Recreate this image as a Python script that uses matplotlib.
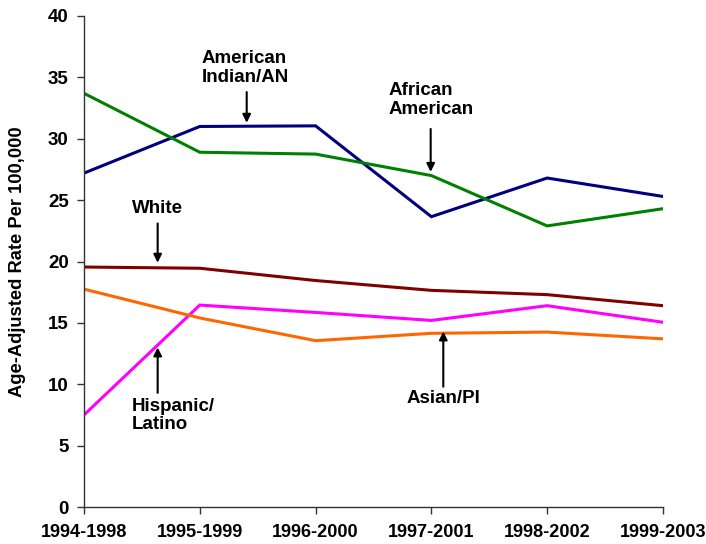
import numpy as np
import matplotlib
matplotlib.use("Agg")
import matplotlib.pyplot as plt

plt.rcParams['font.family'] = ['Liberation Sans', 'DejaVu Sans']
plt.rcParams['font.weight'] = 'bold'

# ---- data ----
periods = ['1994-1998', '1995-1999', '1996-2000', '1997-2001', '1998-2002', '1999-2003']
ai_an = [27.2, 31.0, 31.05, 23.65, 26.8, 25.3]
african_american = [33.7, 28.9, 28.75, 27.0, 22.9, 24.3]
white = [19.55, 19.45, 18.45, 17.65, 17.3, 16.4]
hispanic = [7.5, 16.45, 15.85, 15.2, 16.4, 15.05]
asian_pi = [17.75, 15.4, 13.55, 14.15, 14.25, 13.7]

series = [
    (ai_an, '#000080'),
    (african_american, '#008000'),
    (white, '#800000'),
    (hispanic, '#FF00FF'),
    (asian_pi, '#FF6600'),
]

fig = plt.figure(figsize=(7.06, 5.44), dpi=100, facecolor='w')
ax = fig.add_axes([0.119, 0.068, 0.82, 0.9026])

x = np.arange(len(periods))
for vals, col in series:
    ax.plot(x, vals, color=col, lw=2.2, solid_joinstyle='miter')

ax.set_xlim(0, len(periods) - 1)
ax.set_ylim(0, 40)
ax.set_yticks(np.arange(0, 41, 5))
ax.set_xticks(x)
ax.set_xticklabels(periods)
ax.tick_params(axis='both', direction='out', length=5, width=1, labelsize=13.5, color='#333333')
ax.tick_params(axis='x', pad=7, labelsize=13.1)
ax.tick_params(axis='y', pad=6)
for lab in ax.get_xticklabels() + ax.get_yticklabels():
    lab.set_fontweight('bold')
ax.set_ylabel('Age-Adjusted Rate Per 100,000', fontsize=13.2, fontweight='bold')
ax.yaxis.set_label_coords(-0.100, 0.5)

for spine in ('top', 'right'):
    ax.spines[spine].set_visible(False)
for spine in ('bottom', 'left'):
    ax.spines[spine].set_color('#333333')
    ax.spines[spine].set_linewidth(1)

# ---- labels with arrows ----
labels = [
    ('American\nIndian/AN', (1.016, 37.2), (1.405, 33.8), (1.405, 31.3), 'top'),
    ('African\nAmerican', (2.634, 34.6), (2.994, 30.8), (2.994, 27.3), 'top'),
    ('White', (0.412, 24.3), (0.636, 23.1), (0.636, 19.9), 'center'),
    ('Hispanic/\nLatino', (0.412, 8.9), (0.636, 9.3), (0.636, 13.0), 'top'),
    ('Asian/PI', (2.786, 8.8), (3.103, 9.8), (3.103, 14.3), 'center'),
]
for txt, pos, tail, tip, va in labels:
    ax.text(pos[0], pos[1], txt, ha='left', va=va, fontsize=13.5,
            fontweight='bold', linespacing=1.1)
    ax.annotate('', xy=tip, xytext=tail,
                arrowprops=dict(arrowstyle='-|>', color='black', lw=1.5,
                                mutation_scale=12, shrinkA=0, shrinkB=0))

fig.savefig('out.png', dpi=100)
